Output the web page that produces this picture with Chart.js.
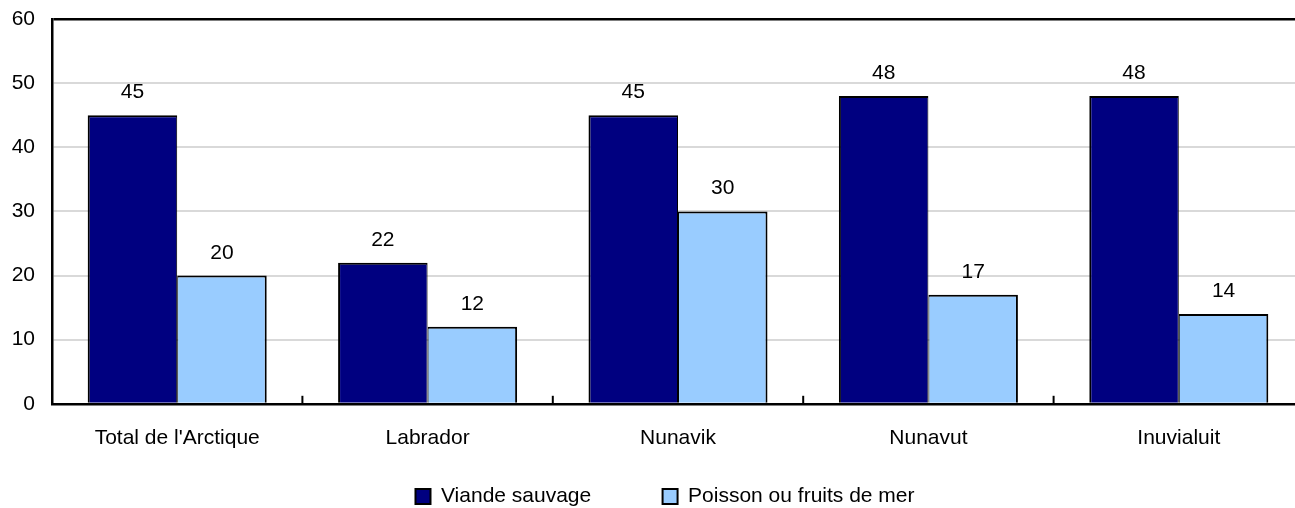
<!DOCTYPE html>
<html>
<head>
<meta charset="utf-8">
<script src="https://cdn.jsdelivr.net/npm/chart.js@4/dist/chart.umd.min.js"></script>
<style>
  html, body { margin: 0; padding: 0; background: #fff; overflow: hidden; }
  #wrap { width: 1330px; height: 517px; }
</style>
</head>
<body>
<div id="wrap"><canvas id="chart" width="1330" height="517"></canvas></div>
<script>
// données
const categories = ["Total de l'Arctique", 'Labrador', 'Nunavik', 'Nunavut', 'Inuvialuit'];
const viandeSauvage = [45, 22, 45, 48, 48];
const poissonFruitsMer = [20, 12, 30, 17, 14];
const seriesNames = ['Viande sauvage', 'Poisson ou fruits de mer'];
const yMin = 0;
const yMax = 60;
const yStep = 10;

const FONT = { family: "'Liberation Sans', Arial, sans-serif", size: 21 };

// étiquettes de valeur au-dessus des barres
const valueLabels = {
    id: 'valueLabels',
    afterDatasetsDraw(chart) {
        const ctx = chart.ctx;
        ctx.save();
        ctx.font = `${FONT.size}px ${FONT.family}`;
        ctx.fillStyle = '#000';
        ctx.textAlign = 'center';
        ctx.textBaseline = 'alphabetic';
        chart.data.datasets.forEach((ds, i) => {
            chart.getDatasetMeta(i).data.forEach((bar, j) => {
                ctx.fillText(String(ds.data[j]), bar.x, bar.y - 17);
            });
        });
        ctx.restore();
    }
};

// petites marques entre les catégories, vers l'intérieur
const innerTicks = {
    id: 'innerTicks',
    afterDatasetsDraw(chart) {
        const x = chart.scales.x;
        const bottom = chart.chartArea.bottom;
        const ctx = chart.ctx;
        ctx.save();
        ctx.strokeStyle = '#000';
        ctx.lineWidth = 2;
        for (let i = 1; i <= categories.length; i++) {
            const px = (x.getPixelForValue(i - 1) + x.getPixelForValue(i)) / 2;
            ctx.beginPath();
            ctx.moveTo(px, bottom);
            ctx.lineTo(px, bottom - 8);
            ctx.stroke();
        }
        ctx.restore();
    }
};

const ctx = document.getElementById('chart').getContext('2d');
new Chart(ctx, {
    type: 'bar',
    data: {
        labels: categories,
        datasets: [{
            label: seriesNames[0],
            data: viandeSauvage,
            backgroundColor: '#000080',
            borderColor: '#000',
            borderWidth: { left: 2, right: 1, top: 2, bottom: 0 },
            borderSkipped: false
        }, {
            label: seriesNames[1],
            data: poissonFruitsMer,
            backgroundColor: '#99CCFF',
            borderColor: '#000',
            borderWidth: { left: 1, right: 2, top: 2, bottom: 0 },
            borderSkipped: false
        }]
    },
    options: {
        responsive: false,
        animation: false,
        layout: { padding: { top: 19, left: 0, right: 0, bottom: 0 } },
        datasets: { bar: { barPercentage: 1, categoryPercentage: 0.715 } },
        plugins: {
            tooltip: { enabled: false },
            legend: {
                position: 'bottom',
                labels: {
                    font: FONT,
                    color: '#000',
                    boxWidth: 15,
                    boxHeight: 15,
                    padding: 13,
                    generateLabels(chart) {
                        const items = Chart.defaults.plugins.legend.labels.generateLabels(chart);
                        items.forEach(it => { it.lineWidth = 2; });
                        // écart entre les deux entrées
                        items[0].text = items[0].text + '          ';
                        return items;
                    }
                }
            }
        },
        scales: {
            x: {
                z: 1,
                afterFit(scale) { scale.paddingLeft = 0; scale.paddingRight = 26; },
                grid: { display: false, drawTicks: false },
                border: { color: '#000', width: 2.5 },
                ticks: { font: FONT, color: '#000', padding: 22, maxRotation: 0 }
            },
            y: {
                min: yMin,
                max: yMax,
                afterFit(scale) {
                    scale.width = 52;
                    scale.paddingTop = 0;
                    scale.paddingBottom = 0;
                },
                ticks: { stepSize: yStep, font: FONT, color: '#000', padding: 17 },
                grid: {
                    drawTicks: false,
                    color: c => c.tick.value === yMax ? '#000' : '#d9d9d9',
                    lineWidth: c => c.tick.value === yMax ? 2.5 : 2
                },
                border: { color: '#000', width: 2.5 }
            }
        }
    },
    plugins: [valueLabels, innerTicks]
});
</script>
</body>
</html>
